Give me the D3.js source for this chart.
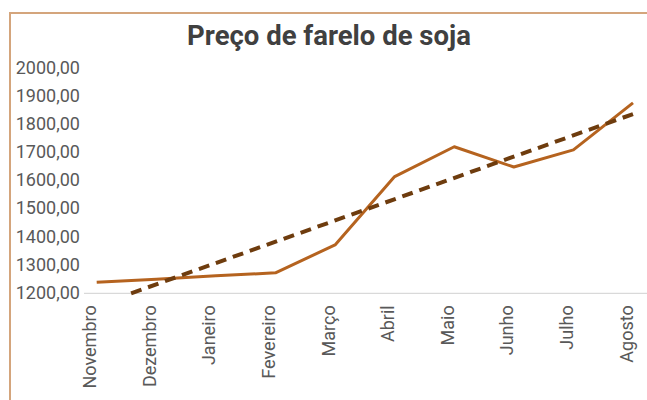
<!DOCTYPE html>
<html>
<head>
<meta charset="utf-8">
<script src="https://cdn.jsdelivr.net/npm/d3@7"></script>
<style>
  html, body { margin: 0; padding: 0; background: #ffffff; }
  svg { display: block; }
</style>
</head>
<body>
<svg id="chart" width="647" height="400"></svg>
<script>
const title = "Preço de farelo de soja";
const categories = ["Novembro", "Dezembro", "Janeiro", "Fevereiro", "Março", "Abril", "Maio", "Junho", "Julho", "Agosto"];
const prices = [1239, 1250, 1262, 1273, 1372, 1615, 1721, 1649, 1710, 1877];
const yTicks = [1200, 1300, 1400, 1500, 1600, 1700, 1800, 1900, 2000];

const svg = d3.select("#chart");
const W = 647, H = 400;

// outer chart border (extends beyond the viewport on right and bottom)
svg.append("rect")
  .attr("x", 10).attr("y", 13)
  .attr("width", 700).attr("height", 450)
  .attr("fill", "#ffffff")
  .attr("stroke", "#d4a57c").attr("stroke-width", 2);

svg.append("text")
  .attr("x", 329).attr("y", 45)
  .attr("text-anchor", "middle")
  .attr("font-family", "Roboto, 'Noto Sans', sans-serif")
  .attr("font-weight", "bold")
  .attr("font-size", 27.5)
  .attr("fill", "#404040")
  .text(title);

const x = d3.scalePoint().domain(categories).range([96.7, 633]);
const y = d3.scaleLinear().domain([1200, 2000]).range([293.3, 68.3]);

const locale = d3.formatLocale({decimal: ",", thousands: "", grouping: [3], currency: ["", ""]});
const fmt = locale.format(".2f");

// Y axis (labels only)
const yAxis = svg.append("g")
  .attr("transform", "translate(80,0)")
  .call(d3.axisLeft(y).tickValues(yTicks).tickFormat(fmt).tickSize(0).tickPadding(0));
yAxis.select(".domain").remove();
yAxis.selectAll("text")
  .attr("font-family", "Roboto, 'Noto Sans', sans-serif")
  .attr("font-size", 18)
  .attr("fill", "#595959")
  .attr("dy", "0.28em");

// X axis
const xAxis = svg.append("g")
  .attr("transform", "translate(0,293.3)")
  .call(d3.axisBottom(x).tickSize(0).tickPadding(0));
xAxis.select(".domain").remove();
xAxis.selectAll("text")
  .attr("font-family", "Roboto, 'Noto Sans', sans-serif")
  .attr("font-size", 18)
  .attr("fill", "#595959")
  .attr("text-anchor", "end")
  .attr("dy", "-0.05em")
  .attr("transform", "translate(0,12) rotate(-90)")
  .attr("y", 0).attr("x", 0);

svg.append("line")
  .attr("x1", 84).attr("x2", W)
  .attr("y1", y(1200)).attr("y2", y(1200))
  .attr("stroke", "#d9d9d9").attr("stroke-width", 1.2);

// linear trendline (least squares on the series)
const n = prices.length;
const xs = d3.range(n);
const mx = d3.mean(xs), my = d3.mean(prices);
const slope = d3.sum(xs, i => (i - mx) * (prices[i] - my)) / d3.sum(xs, i => (i - mx) * (i - mx));
const intercept = my - slope * mx;
const idxToPx = d3.scaleLinear().domain([0, n - 1]).range([x(categories[0]), x(categories[n - 1])]);
const tStart = Math.max(0, (1200 - intercept) / slope);
const trend = [[tStart, intercept + slope * tStart], [n - 1, intercept + slope * (n - 1)]];

svg.append("path")
  .datum(prices)
  .attr("fill", "none")
  .attr("stroke", "#b5631f")
  .attr("stroke-width", 3)
  .attr("stroke-linejoin", "round")
  .attr("d", d3.line().x((d, i) => x(categories[i])).y(d => y(d)));

svg.append("path")
  .datum(trend)
  .attr("fill", "none")
  .attr("stroke", "#6e3c0e")
  .attr("stroke-width", 4)
  .attr("stroke-dasharray", "11,7")
  .attr("d", d3.line().x(d => idxToPx(d[0])).y(d => y(d[1])));
</script>
</body>
</html>
